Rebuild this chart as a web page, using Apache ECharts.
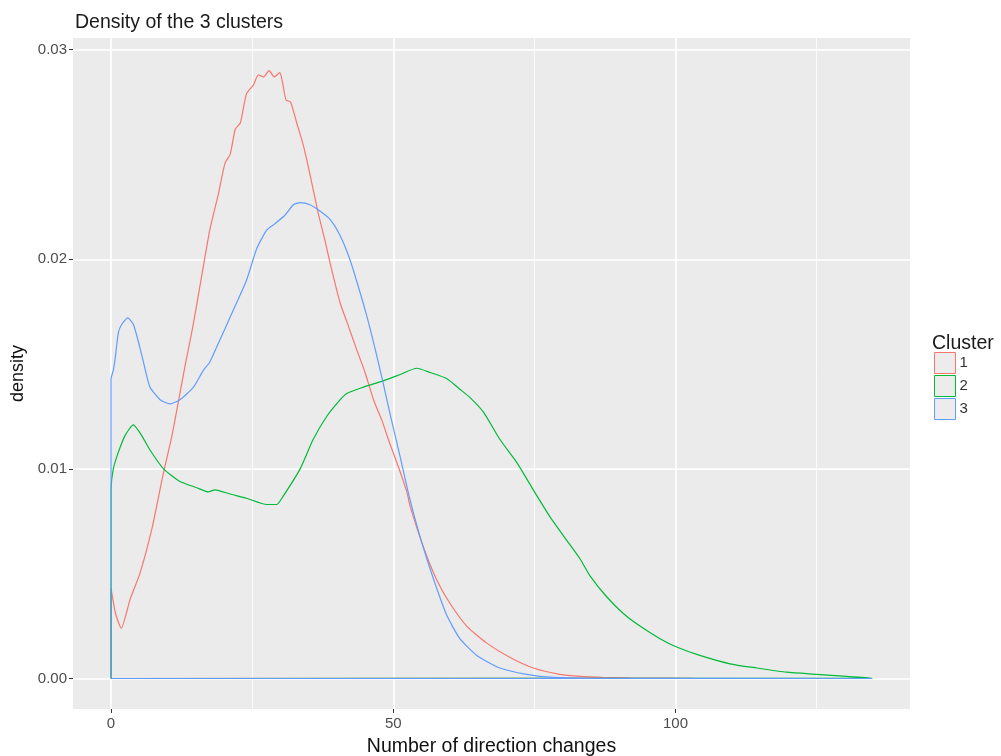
<!DOCTYPE html>
<html>
<head>
<meta charset="utf-8">
<title>Density of the 3 clusters</title>
<script src="https://cdn.jsdelivr.net/npm/echarts@6/dist/echarts.min.js"></script>
<style>
  html, body { margin: 0; padding: 0; background: #ffffff; }
  #chart { width: 1001px; height: 756px; }
</style>
</head>
<body>
<div id="chart"></div>
<script>
// Kernel density estimates of "number of direction changes", one curve per cluster
const clusterNames = ['1', '2', '3'];
const clusterColors = ['#F8766D', '#00BA38', '#619CFF'];

const cluster1X = [0, 0.8, 1.8, 3.4, 5.1, 7.2, 9.2, 10.8, 12.2, 13.1, 14.5, 15.8, 17.5, 19.0, 20.2, 21.1, 22.0, 22.9, 24.0, 25.2, 26.1, 27.0, 28.0, 28.9, 29.9, 30.4, 31.0, 31.8, 32.9, 34.1, 35.2, 36.7, 37.9, 39.0, 40.6, 41.8, 43.5, 45.0, 46.5, 48.0, 49.4, 50.9, 52.4, 53.0, 55.3, 57.7, 60.0, 63.0, 66.5, 70.7, 74.8, 79.5, 83.1, 87.0, 92.0, 97.0, 103.0];
const cluster1Y = [0.0043, 0.0031, 0.0024, 0.0038, 0.0050, 0.0071, 0.0097, 0.0116, 0.0136, 0.0149, 0.0168, 0.0188, 0.0214, 0.0231, 0.0246, 0.0250, 0.0262, 0.0265, 0.0279, 0.0283, 0.0288, 0.0287, 0.0290, 0.0287, 0.0289, 0.0284, 0.0276, 0.0275, 0.0265, 0.0254, 0.0241, 0.0222, 0.0209, 0.0196, 0.0179, 0.0170, 0.0157, 0.0146, 0.0133, 0.0123, 0.0112, 0.0101, 0.0089, 0.0082, 0.0063, 0.0047, 0.0036, 0.0025, 0.0017, 0.0010, 0.0005, 0.0002, 0.0001, 0.00005, 0.00003, 0.00002, 0.00001];

const cluster2X = [0, 0.4, 1.3, 2.5, 3.95, 5.4, 6.9, 9.3, 12.2, 15.2, 17.2, 18.4, 21.1, 24.0, 27.6, 29.35, 30.5, 33.5, 35.8, 38.2, 40.6, 41.75, 44.7, 48.2, 51.2, 54.15, 56.5, 59.5, 61.8, 63.6, 66.0, 68.9, 71.9, 74.8, 77.8, 80.7, 83.1, 84.85, 87.8, 90.75, 93.7, 97.25, 100.2, 104.3, 109.65, 114.4, 119.7, 125.0, 130.3, 134.8];
const cluster2Y = [0.0090, 0.0100, 0.0108, 0.0116, 0.0121, 0.0116, 0.0109, 0.0100, 0.0094, 0.0091, 0.0089, 0.0090, 0.0088, 0.0086, 0.0083, 0.0083, 0.0087, 0.0100, 0.0114, 0.0125, 0.0133, 0.0136, 0.0139, 0.0142, 0.0145, 0.0148, 0.0146, 0.0143, 0.0138, 0.0134, 0.0127, 0.0114, 0.0103, 0.0090, 0.0077, 0.0066, 0.0057, 0.0049, 0.0039, 0.0031, 0.0025, 0.0019, 0.0015, 0.0011, 0.0007, 0.0005, 0.0003, 0.0002, 0.0001, 0.00001];

const cluster3X = [0, 0.4, 0.7, 1.3, 1.9, 2.95, 3.95, 5.1, 6.0, 6.9, 8.7, 10.45, 12.2, 14.6, 16.35, 17.5, 18.7, 21.7, 24.0, 25.8, 27.6, 29.05, 30.8, 32.3, 33.5, 35.25, 37.0, 38.8, 40.45, 42.3, 43.8, 45.3, 46.8, 48.2, 49.7, 51.2, 52.9, 54.7, 56.2, 57.7, 59.5, 61.8, 64.8, 68.9, 73.6, 78.4, 85.0, 134.8];
const cluster3Y = [0.0143, 0.0147, 0.0152, 0.0165, 0.0169, 0.0172, 0.0169, 0.0158, 0.0148, 0.0139, 0.0133, 0.0131, 0.0133, 0.0139, 0.0147, 0.0151, 0.0158, 0.0176, 0.0190, 0.0205, 0.0214, 0.0217, 0.0221, 0.0226, 0.0227, 0.0226, 0.0223, 0.0219, 0.0212, 0.0200, 0.0187, 0.0173, 0.0157, 0.0141, 0.0123, 0.0106, 0.0086, 0.0068, 0.0055, 0.0043, 0.0030, 0.0019, 0.0011, 0.0005, 0.0002, 0.00005, 0.00001, 0];

// Axis breaks
const xMajor = [0, 50, 100];
const xMinor = [25, 75, 125];
const yMajor = [0, 0.01, 0.02, 0.03];
const yMinor = [0.005, 0.015, 0.025];

// Panel limits (data range plus 5% padding on each side)
const xRange = [0, 134.8];
const yRange = [0, 0.0291];
const xPad = (xRange[1] - xRange[0]) * 0.05;
const yPad = (yRange[1] - yRange[0]) * 0.05;

// Closed outline: up the left edge, along the curve, down and back along the baseline
function outline(xs, ys) {
  const pts = [[xs[0], 0]];
  for (let i = 0; i < xs.length; i++) pts.push([xs[i], ys[i]]);
  pts.push([xs[xs.length - 1], 0]);
  pts.push([xs[0], 0]);
  return pts;
}

const curves = [[cluster1X, cluster1Y], [cluster2X, cluster2Y], [cluster3X, cluster3Y]];

const minorLine = { color: '#ffffff', width: 0.8, type: 'solid' };
const majorLine = { color: '#ffffff', width: 1.7, type: 'solid' };

// White panel grid, kept underneath the density outlines
const gridSeries = {
  name: 'panel grid',
  type: 'line',
  data: [],
  silent: true,
  z: 1,
  markLine: {
    silent: true,
    z: 1,
    symbol: 'none',
    label: { show: false },
    animation: false,
    emphasis: { disabled: true },
    data: [
      ...xMinor.map(v => ({ xAxis: v, lineStyle: minorLine })),
      ...yMinor.map(v => ({ yAxis: v, lineStyle: minorLine })),
      ...xMajor.map(v => ({ xAxis: v, lineStyle: majorLine })),
      ...yMajor.map(v => ({ yAxis: v, lineStyle: majorLine }))
    ]
  }
};

const densitySeries = curves.map((c, i) => ({
  name: clusterNames[i],
  type: 'line',
  data: outline(c[0], c[1]),
  showSymbol: false,
  symbol: 'none',
  smooth: 0.2,
  z: 3 + i,
  lineStyle: { color: clusterColors[i], width: 1.2 },
  itemStyle: { color: clusterColors[i] },
  emphasis: { disabled: true }
}));

const chart = echarts.init(document.getElementById('chart'), null, { renderer: 'canvas' });

chart.setOption({
  animation: false,
  backgroundColor: '#ffffff',
  textStyle: { fontFamily: 'Liberation Sans, Arial, sans-serif' },
  title: [
    {
      text: 'Density of the 3 clusters',
      left: 70,
      top: 8,
      textStyle: { fontSize: 19.5, fontWeight: 'normal', color: '#1a1a1a' }
    },
    {
      text: 'Cluster',
      left: 927,
      top: 329,
      textStyle: { fontSize: 19.5, fontWeight: 'normal', color: '#1a1a1a' }
    }
  ],
  legend: {
    orient: 'vertical',
    left: 929,
    top: 347,
    itemWidth: 21,
    itemHeight: 21,
    itemGap: 1,
    selectedMode: false,
    icon: 'rect',
    textStyle: { fontSize: 15, color: '#333333', padding: [0, 0, 0, -1] },
    data: clusterNames.map((n, i) => ({
      name: n,
      icon: 'rect',
      itemStyle: { color: '#ECECEC', borderColor: clusterColors[i], borderWidth: 1 }
    }))
  },
  grid: {
    left: 73,
    top: 38,
    width: 837,
    height: 671,
    containLabel: false,
    outerBoundsMode: 'none',
    show: true,
    backgroundColor: '#EBEBEB',
    borderWidth: 0
  },
  xAxis: {
    type: 'value',
    min: xRange[0] - xPad,
    max: xRange[1] + xPad,
    name: 'Number of direction changes',
    nameLocation: 'middle',
    nameGap: 28,
    nameTextStyle: { fontSize: 19.5, color: '#111111' },
    axisLine: { show: false, onZero: false },
    splitLine: { show: false },
    axisTick: { show: true, customValues: xMajor, length: 4, lineStyle: { color: '#333333', width: 1 } },
    axisLabel: { customValues: xMajor, margin: 7, fontSize: 15, color: '#4D4D4D' }
  },
  yAxis: {
    type: 'value',
    min: yRange[0] - yPad,
    max: yRange[1] + yPad,
    name: 'density',
    nameLocation: 'middle',
    nameGap: 46,
    nameTextStyle: { fontSize: 18, color: '#111111' },
    axisLine: { show: false, onZero: false },
    splitLine: { show: false },
    axisTick: { show: true, customValues: yMajor, length: 4, lineStyle: { color: '#333333', width: 1 } },
    axisLabel: {
      customValues: yMajor,
      margin: 6,
      fontSize: 15,
      color: '#4D4D4D',
      formatter: v => v.toFixed(2)
    }
  },
  series: [gridSeries, ...densitySeries]
});
</script>
</body>
</html>
